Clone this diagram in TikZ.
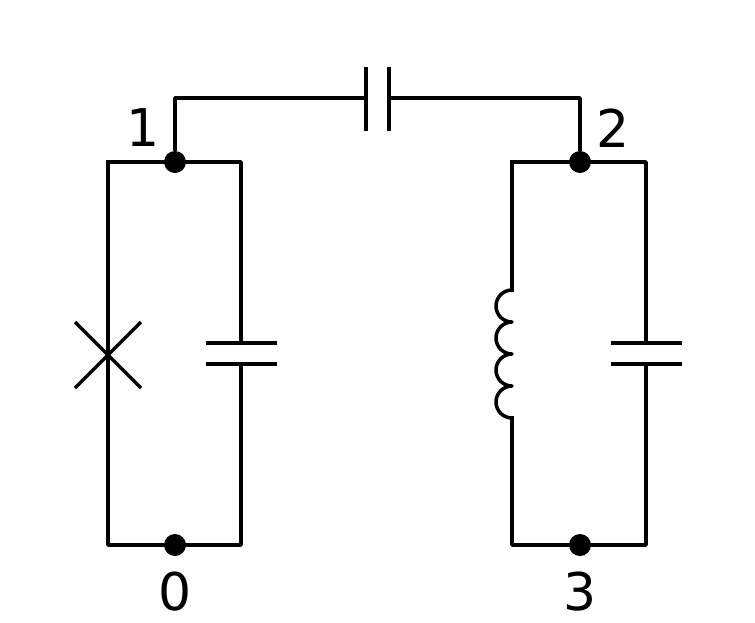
\documentclass[tikz,border=0pt]{standalone}
\usepackage{fontspec}
\setmainfont{DejaVu Sans}
\begin{document}
\begin{tikzpicture}[x=1pt,y=-1pt,line width=3.5pt,line join=round,
  wire/.style={line width=3.5pt,line cap=rect},
  dot/.style={circle,fill=black,inner sep=0pt,minimum size=22pt},
  lbl/.style={font=\fontsize{52}{52}\selectfont,inner sep=0pt}]
\useasboundingbox (0,0) rectangle (755,622);
% nodes
\node[dot] (n1) at (175,162) {};
\node[dot] (n0) at (175,545) {};
\node[dot] (n2) at (580,162) {};
\node[dot] (n3) at (580,545) {};
\node[lbl] (l1) at (143,128) {1};
\node[lbl] (l2) at (613,128) {2};
\node[lbl] (l0) at (175,592) {0};
\node[lbl] (l3) at (580,592) {3};
\coordinate (tl) at (108,162); \coordinate (tr) at (241,162);
\coordinate (bl) at (108,545); \coordinate (br) at (241,545);
\coordinate (Tl) at (512,162); \coordinate (Tr) at (646,162);
\coordinate (Bl) at (512,545); \coordinate (Br) at (646,545);
% left circuit
\draw[wire] (tl) -- (tr) -- (241,343);
\draw[wire] (241,364) -- (br) -- (bl) -- (tl);
\draw[wire] (208,343) -- (275,343);
\draw[wire] (208,364) -- (275,364);
\draw[line width=3.5pt] (75,322) -- (141,388);
\draw[line width=3.5pt] (75,388) -- (141,322);
% right circuit
\draw[wire] (Tl) -- (Tr) -- (646,343);
\draw[wire] (646,364) -- (Br) -- (Bl) -- (512,418);
\draw[wire] (512,290) -- (Tl);
\draw[line width=3.5pt,line cap=butt] (512,290) arc[start angle=270,end angle=90,radius=16]
  arc[start angle=270,end angle=90,radius=16]
  arc[start angle=270,end angle=90,radius=16]
  arc[start angle=270,end angle=90,radius=16];
\draw[wire] (613,343) -- (680,343);
\draw[wire] (613,364) -- (680,364);
% coupling
\draw[wire] (n1) -- (175,98) -- (366,98);
\draw[wire] (389,98) -- (580,98) -- (n2);
\draw[line width=3.5pt] (366,67) -- (366,131);
\draw[line width=3.5pt] (389,67) -- (389,131);
\end{tikzpicture}
\end{document}
